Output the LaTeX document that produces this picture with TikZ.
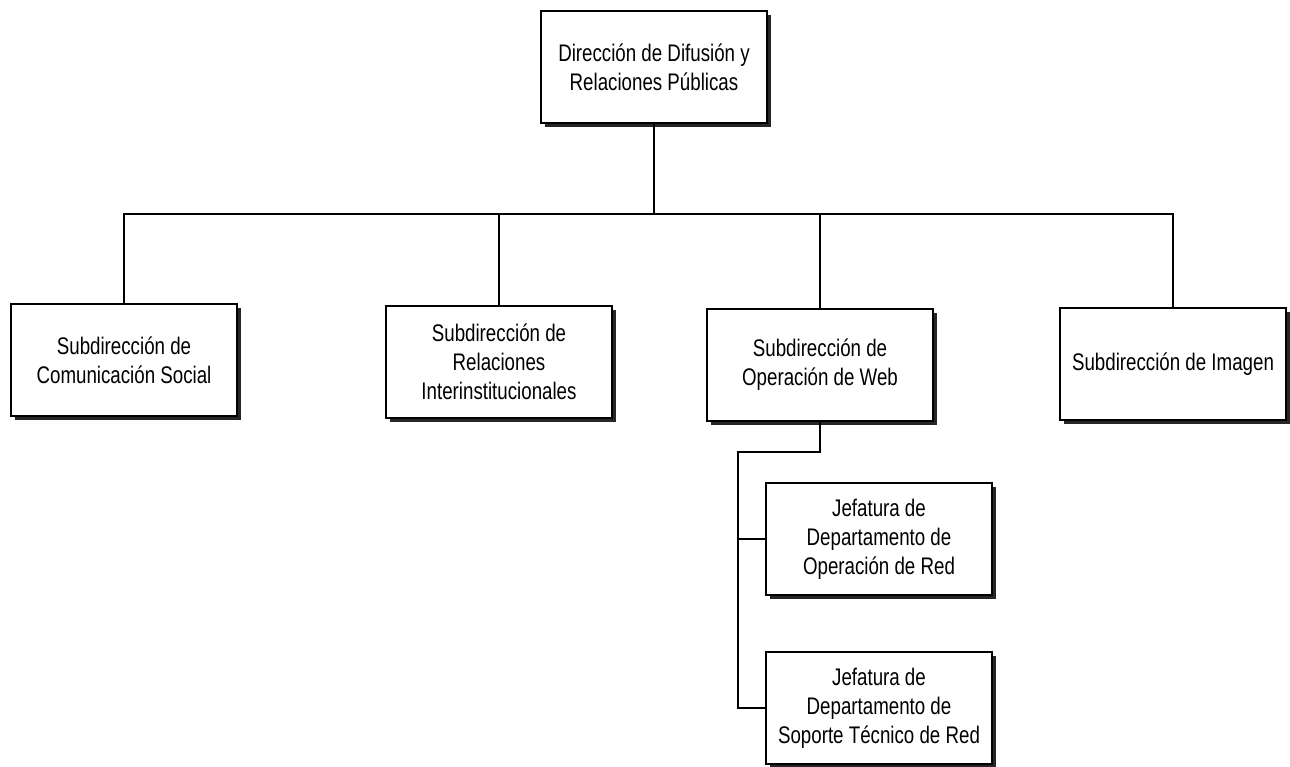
\documentclass[tikz,border=0pt]{standalone}
\usepackage{fontspec}
\setmainfont{Liberation Sans}[FakeStretch=0.78]
\usepackage{tikz}
\usetikzlibrary{positioning,shadows}
\tikzset{
  org box/.style={draw=black,line width=1.8pt,fill=white,align=center,
    minimum width=226pt,minimum height=112pt,inner sep=6pt,
    font=\fontsize{24}{29}\selectfont,
    drop shadow={shadow xshift=3.5pt,shadow yshift=-3.5pt,fill=black!85,opacity=1}},
  org line/.style={line width=1.8pt,draw=black}
}
\begin{document}
\begin{tikzpicture}[x=1pt,y=-1pt]
\useasboundingbox (0,0) rectangle (1290,766);
\node[org box] (dir) at (654,67) {Dirección de Difusión y\\Relaciones Públicas};
\node[org box] (comsoc) at (124,360) {Subdirección de\\Comunicación Social};
\node[org box] (relint) at (499,362) {Subdirección de\\Relaciones\\Interinstitucionales};
\node[org box] (web) at (820,365) {Subdirección de\\Operación de Web};
\node[org box] (imagen) at (1173,364) {Subdirección de Imagen};
\node[org box] (opred) at (879,539) {Jefatura de\\Departamento de\\Operación de Red};
\node[org box] (soporte) at (879,708) {Jefatura de\\Departamento de\\Soporte Técnico de Red};
% bus under the direction
\coordinate (hub) at (654,214);
\coordinate (spine) at (738,452);
\draw[org line] (dir.south) -- (hub);
\draw[org line] (comsoc.north) |- (hub) -| (imagen.north);
\draw[org line] (relint.north) -- (relint.north |- hub);
\draw[org line] (web.north) -- (web.north |- hub);
% departments under web
\draw[org line] (web.south) |- (spine) |- (soporte.west);
\draw[org line] (spine |- opred.west) -- (opred.west);
\end{tikzpicture}
\end{document}
